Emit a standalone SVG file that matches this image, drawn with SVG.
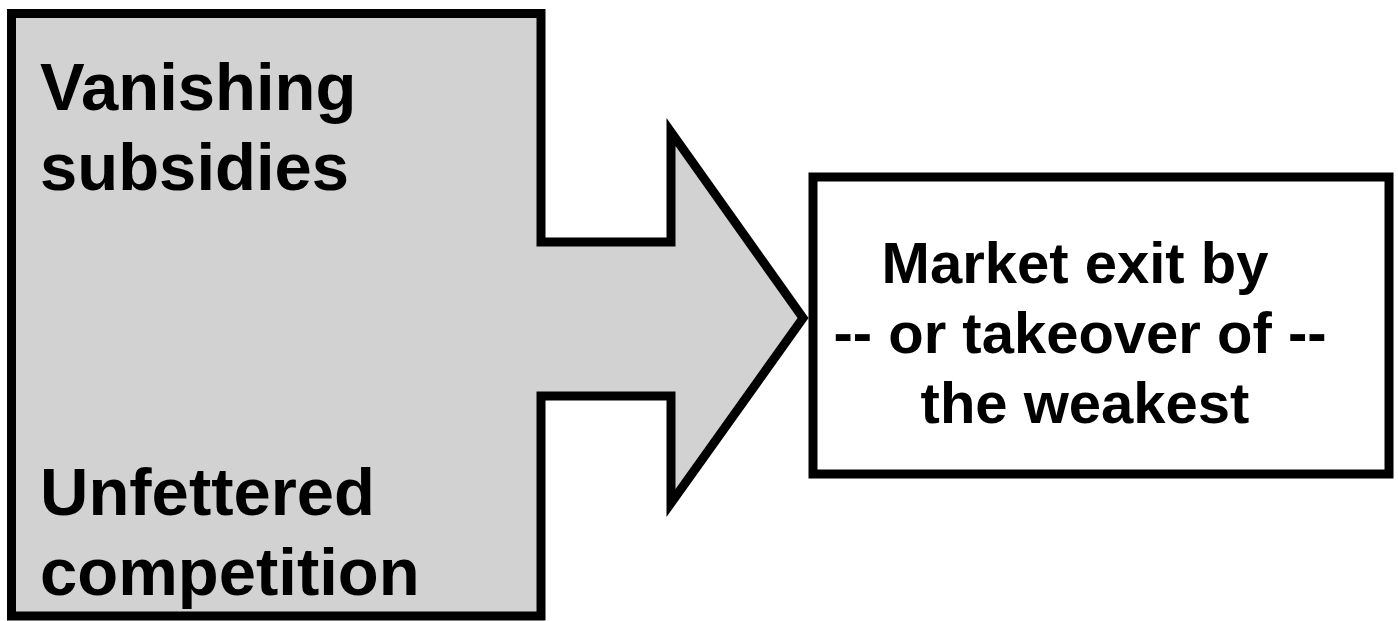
<svg xmlns="http://www.w3.org/2000/svg" width="1398" height="621" viewBox="0 0 1398 621">
<style>
.outline{stroke:#000;stroke-width:9;stroke-linejoin:miter}
.lbl{font-family:"Liberation Sans",Arial,sans-serif;font-weight:bold;fill:#000}
</style>
<rect width="1398" height="621" fill="#fff"/>
<g id="sources">
<path class="outline" fill="#d2d2d2" d="M11.5 13.5 H541 V242 H671 V132 L803 318 L671 503 V396 H541 V616 H11.5 Z"/>
<text class="lbl" font-size="67" x="40" y="110">Vanishing</text>
<text class="lbl" font-size="67" x="40" y="190">subsidies</text>
<text class="lbl" font-size="67" x="40" y="515">Unfettered</text>
<text class="lbl" font-size="67" x="40" y="595">competition</text>
</g>
<g id="connectors"></g>
<g id="result">
<rect class="outline" fill="#fff" x="813" y="177" width="576" height="297"/>
<text class="lbl" font-size="58" text-anchor="middle" x="1075" y="283">Market exit by</text>
<text class="lbl" font-size="58" text-anchor="middle" x="1080" y="353">-- or takeover of --</text>
<text class="lbl" font-size="58" text-anchor="middle" x="1085" y="423">the weakest</text>
</g>
</svg>
